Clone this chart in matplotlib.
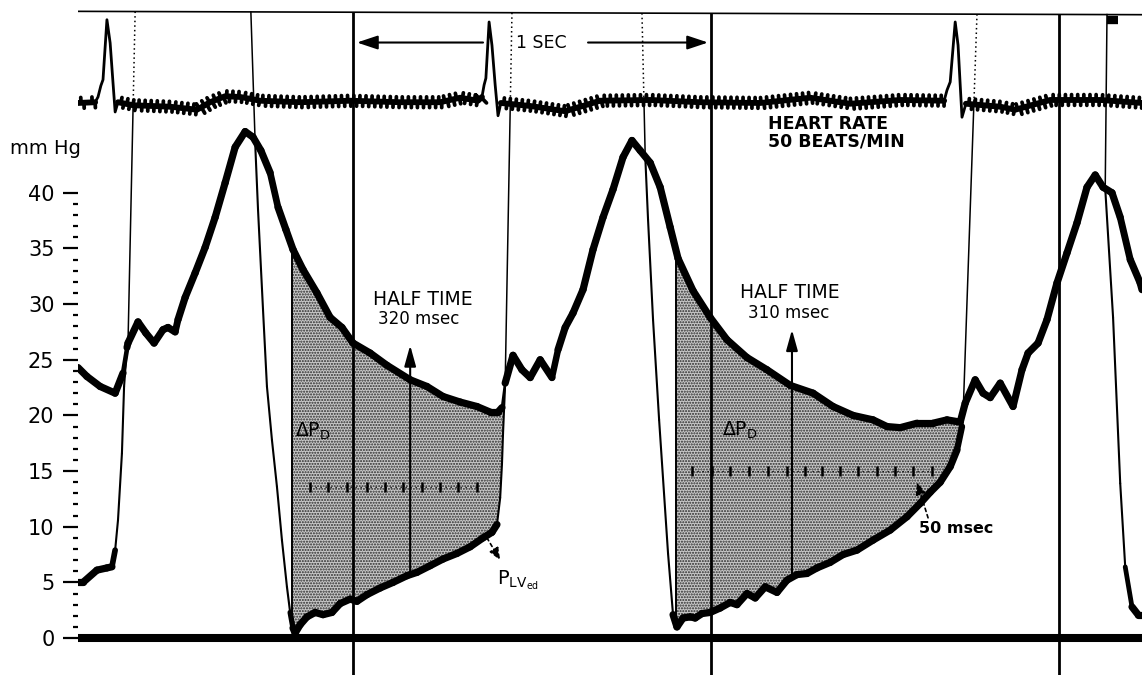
import numpy as np
import matplotlib
matplotlib.use("Agg")
import matplotlib.pyplot as plt
import matplotlib.patheffects as pe
from matplotlib.collections import LineCollection

plt.rcParams["font.family"] = ["DejaVu Sans"]
plt.rcParams["mathtext.fontset"] = "dejavusans"
plt.rcParams["hatch.linewidth"] = 1.0

# time in msec from the start of the strip, pressure in mm Hg
art_t = [0, 25, 62, 104, 126, 140, 168, 190, 213, 238, 252, 272, 280, 300, 328, 356, 384, 412,
         440, 468, 490, 512, 538, 560, 582, 602, 630, 669, 706, 739, 770, 818, 865, 930, 977,
         1022, 1070, 1117, 1154, 1176, 1187, 1196, 1218, 1243, 1266, 1294, 1327, 1344, 1364,
         1386, 1414, 1442, 1470, 1498, 1526, 1551, 1574, 1602, 1630, 1658, 1680, 1722, 1770,
         1817, 1873, 1929, 1994, 2058, 2114, 2170, 2226, 2265, 2302, 2349, 2394, 2433, 2470,
         2484, 2512, 2534, 2554, 2582, 2618, 2643, 2660, 2688, 2713, 2741, 2769, 2797, 2825,
         2848, 2870, 2895, 2918, 2946, 2974, 2979]
art_p = [24.3, 23.5, 22.6, 22.0, 23.8, 26.5, 28.4, 27.4, 26.5, 27.7, 27.9, 27.5, 28.6, 30.6,
         32.8, 35.1, 37.8, 40.9, 44.1, 45.5, 45.0, 43.8, 41.8, 38.7, 36.7, 34.9, 33.1, 31.0,
         28.8, 27.9, 26.5, 25.6, 24.5, 23.2, 22.6, 21.7, 21.2, 20.8, 20.3, 20.3, 20.7, 22.9,
         25.4, 24.1, 23.4, 25.0, 23.4, 25.9, 27.9, 29.2, 31.3, 34.9, 37.8, 40.3, 43.2, 44.7,
         43.8, 42.7, 40.5, 36.9, 34.1, 31.2, 28.8, 26.8, 25.2, 24.1, 22.7, 22.0, 20.8, 20.0,
         19.6, 19.0, 18.9, 19.3, 19.3, 19.6, 19.4, 21.1, 23.2, 22.0, 21.6, 22.9, 20.8, 24.1,
         25.6, 26.5, 28.6, 31.9, 34.6, 37.3, 40.5, 41.6, 40.5, 40.0, 37.8, 34.0, 31.9, 31.3]

# left ventricular pressure, only where it leaves the arterial trace
lv_a_t = [0, 14, 53, 81, 95, 104, 112, 123, 129, 137, 140]
lv_a_p = [5.0, 5.0, 6.1, 6.3, 6.4, 7.9, 10.6, 16.6, 22.6, 26.1, 26.5]
lv_b_t = [496, 504, 518, 529, 543, 557, 571, 585, 594, 602, 608, 622, 641, 664, 686, 711, 734,
          762, 781, 809, 846, 882, 921, 949, 986, 1022, 1061, 1098, 1134, 1159, 1173, 1182,
          1187, 1190, 1196]
lv_b_p = [44.5, 38.5, 29.5, 22.6, 17.8, 13.6, 8.8, 4.6, 2.3, 0.9, 0.45, 1.2, 1.9, 2.3, 2.1,
          2.3, 3.1, 3.5, 3.3, 3.9, 4.5, 5.0, 5.6, 5.9, 6.5, 7.1, 7.6, 8.2, 9.0, 9.5, 10.2,
          12.6, 15.6, 18.4, 22.9]
lv_c_t = [1588, 1596, 1610, 1627, 1652, 1666, 1677, 1694, 1714, 1728, 1747, 1770, 1798, 1826,
          1845, 1873, 1896, 1924, 1957, 1985, 2013, 2041, 2069, 2106, 2142, 2181, 2226, 2274,
          2321, 2358, 2386, 2414, 2442, 2461, 2475, 2478]
lv_c_p = [43.4, 37.6, 28.6, 19.6, 7.6, 2.1, 1.0, 1.8, 1.9, 1.8, 2.2, 2.3, 2.7, 3.2, 3.0, 4.0,
          3.6, 4.6, 4.1, 5.2, 5.7, 5.8, 6.3, 6.8, 7.5, 7.9, 8.8, 9.7, 10.9, 12.1, 13.1, 14.0,
          15.4, 16.9, 19.0, 20.0]
lv_d_t = [2876, 2898, 2918, 2932, 2951, 2968, 2979]
lv_d_p = [40.4, 28.8, 13.9, 6.4, 2.8, 2.1, 2.1]

# ECG (mV)
ecg_t = [0, 48, 56, 64, 70, 81, 90, 98, 104, 112, 154, 258, 333, 370, 412, 454, 510, 622, 762,
         902, 1014, 1070, 1120, 1131, 1137, 1142, 1151, 1159, 1168, 1176, 1184, 1266, 1364,
         1462, 1602, 1742, 1910, 2050, 2162, 2302, 2425, 2433, 2442, 2456, 2464, 2470, 2475,
         2486, 2582, 2624, 2722, 2862, 2979]
ecg_mv = [-0.04, -0.03, 0.04, 0.19, 0.27, 1.07, 0.76, 0.23, -0.16, -0.03, -0.07, -0.09, -0.13,
          -0.03, 0.05, 0.04, -0.01, -0.03, -0.01, -0.03, -0.03, 0.03, -0.01, 0.04, 0.2, 0.29,
          1.04, 0.73, 0.2, -0.21, -0.04, -0.08, -0.15, -0.01, 0.0, -0.03, -0.04, 0.03, -0.05,
          0.0, -0.01, 0.13, 0.24, 1.04, 0.73, 0.2, -0.23, -0.05, -0.09, -0.13, 0.0, 0.0, -0.04]

# timing lines
sec_marks = [770, 1772, 2747]
top_line_t = [0, 2979]
top_line_p = [56.3, 56.0]
ecg_level_p = 48.3
guide_top_t = [160, 484, 1215, 1579, 2517, 2881]
guide_bot_t = [140, 496, 1196, 1588, 2478, 2876]
guide_bot_p = [26.5, 44.5, 22.9, 43.4, 20.0, 40.4]
guide_dotted = [True, False, True, True, True, False]
flag_t = [2881, 2912]
flag_p = [55.5, 55.5]

# shaded diastolic areas and half-time arrows
shade_start = [599, 1674]
shade_end = [1196, 2478]
half_t = [930, 1999]
half_tip = [26.3, 27.7]
tick_rows_t = [[650, 700, 753, 809, 860, 910, 963, 1014, 1064, 1117],
               [1719, 1775, 1826, 1879, 1932, 1985, 2036, 2083, 2134, 2184, 2237, 2288, 2338, 2391]]
tick_rows_p = [13.6, 15.0]

fig = plt.figure(figsize=(11.42, 6.75), dpi=100)
fig.patch.set_facecolor("white")
ax = fig.add_axes([78 / 1142, 0, 1 - 78 / 1142, 1])
ax.set_xlim(0, 2979)
ax.set_ylim(-3.32, 57.32)
for s in ax.spines.values():
    s.set_visible(False)
ax.set_xticks([])
ax.set_yticks(np.arange(0, 41, 5))
ax.set_yticks(np.arange(0, 41, 1), minor=True)
ax.tick_params(axis="y", which="major", length=11, width=1.6, pad=6, labelsize=15)
ax.tick_params(axis="y", which="minor", length=3.5, width=1.6)
fig.text(10 / 1142, 1 - 148 / 675, "mm Hg", fontsize=14, ha="left", va="center")

lv_all_t = lv_b_t + lv_c_t
lv_all_p = lv_b_p + lv_c_p


def pen_trace(axis, t, p, thick=5.2, thin=1.5, z=4):
    # fast pen strokes come out thin, slow ones thick
    t = np.asarray(t, float)
    p = np.asarray(p, float)
    pts = axis.transData.transform(np.column_stack([t, p]))
    d = np.diff(pts, axis=0)
    slope = np.abs(d[:, 1]) / np.maximum(np.abs(d[:, 0]), 1e-6)
    frac = np.clip((8.0 - slope) / 4.0, 0, 1)
    widths = thin + (thick - thin) * frac
    segs = np.stack([pts[:-1], pts[1:]], axis=1)
    segs = axis.transData.inverted().transform(segs.reshape(-1, 2)).reshape(-1, 2, 2)
    lc = LineCollection(segs, linewidths=widths, colors="black", capstyle="round",
                        joinstyle="round", zorder=z)
    axis.add_collection(lc)
    return slope


# shading between arterial and ventricular pressure
for t0, t1 in zip(shade_start, shade_end):
    grid = np.union1d([t0, t1], [v for v in art_t + lv_all_t if t0 <= v <= t1])
    upper = np.interp(grid, art_t, art_p)
    lower = np.interp(grid, lv_all_t, lv_all_p)
    ax.fill_between(grid, lower, upper, facecolor="#c8c8c8", edgecolor="#2a2a2a",
                    hatch="......", linewidth=0, zorder=1)
    ax.vlines(t0, lower[0], upper[0], color="black", lw=1.4, zorder=3)

# zero line, top line, one-second marks
ax.axhline(0, color="black", lw=5.8, zorder=4)
ax.plot(top_line_t, top_line_p, color="black", lw=1.2, zorder=4)
top_p = np.interp(sec_marks, top_line_t, top_line_p)
ax.vlines(sec_marks, -3.32, top_p, color="black", lw=2.0, zorder=5)
ax.plot(flag_t, flag_p, color="black", lw=6, solid_capstyle="butt", zorder=5)

# guide lines down to the pressure upstrokes and downstrokes
for tt, tb, pb, dotted in zip(guide_top_t, guide_bot_t, guide_bot_p, guide_dotted):
    pt = np.interp(tt, top_line_t, top_line_p)
    if dotted:
        tm = tt + (tb - tt) * (pt - ecg_level_p) / (pt - pb)
        ax.plot([tt, tm], [pt, ecg_level_p], color="black", lw=1.1, ls=(0, (1, 2)), zorder=3)
        ax.plot([tm, tb], [ecg_level_p, pb], color="black", lw=1.1, zorder=3)
    else:
        ax.plot([tt, tb], [pt, pb], color="black", lw=1.1, zorder=3)

# pressure traces
pen_trace(ax, art_t, art_p)
for lt, lp in [(lv_a_t, lv_a_p), (lv_b_t, lv_b_p), (lv_c_t, lv_c_p), (lv_d_t, lv_d_p)]:
    pen_trace(ax, lt, lp)

# 50 msec time ticks
for row_t, row_p in zip(tick_rows_t, tick_rows_p):
    ax.plot([row_t[0], row_t[-1]], [row_p, row_p], color="black", lw=0.9, ls=(0, (1, 3)), zorder=3)
    ax.plot(row_t, [row_p] * len(row_t), ls="none", marker="|", ms=7, mew=1.8,
            color="black", zorder=3)

# half-time arrows
for t, tip in zip(half_t, half_tip):
    base = np.interp(t, lv_all_t, lv_all_p)
    ax.annotate("", xy=(t, tip), xytext=(t, base),
                arrowprops=dict(arrowstyle="-|>,head_length=0.9,head_width=0.25", color="black",
                                lw=1.5, shrinkA=0, shrinkB=0, mutation_scale=14), zorder=6)

# one-second span arrows
for x0, x1 in [(1134, 781), (1428, 1764)]:
    ax.annotate("", xy=(x1, 53.5), xytext=(x0, 53.5),
                arrowprops=dict(arrowstyle="-|>,head_length=0.9,head_width=0.3", color="black",
                                lw=1.5, shrinkA=0, shrinkB=0, mutation_scale=14), zorder=6)
ax.text(1296, 53.5, "1 SEC", fontsize=12.5, ha="center", va="center")

ax.text(1932, 47.0, "HEART RATE\n50 BEATS/MIN", fontsize=12.5, fontweight="bold",
        ha="left", va="top", linespacing=0.95)
ax.text(966, 30.4, "HALF TIME", fontsize=13.5, ha="center", va="center", zorder=7)
ax.text(955, 28.7, "320 msec", fontsize=12, ha="center", va="center", zorder=7)
ax.text(1994, 31.0, "HALF TIME", fontsize=13.5, ha="center", va="center", zorder=7)
ax.text(1991, 29.2, "310 msec", fontsize=12, ha="center", va="center", zorder=7)
ax.text(608, 18.1, r"$\Delta\mathrm{P}_{\mathrm{D}}$", fontsize=13.5, ha="left", va="baseline", zorder=7)
ax.text(1803, 18.2, r"$\Delta\mathrm{P}_{\mathrm{D}}$", fontsize=13.5, ha="left", va="baseline", zorder=7)
ax.text(1173, 4.85, r"$\mathrm{P}_{\mathrm{LV}_{\mathrm{ed}}}$", fontsize=14, ha="left",
        va="baseline", zorder=7)
ax.text(2458, 9.8, "50 msec", fontsize=11.5, fontweight="bold", ha="center", va="center", zorder=7)

ax.annotate("", xy=(1182, 7.0), xytext=(1145, 9.0),
            arrowprops=dict(arrowstyle="-|>,head_length=0.6,head_width=0.25", color="black",
                            lw=1.2, ls=(0, (2, 2)), shrinkA=0, shrinkB=0, mutation_scale=12), zorder=6)
ax.annotate("", xy=(2349, 14.0), xytext=(2380, 10.8),
            arrowprops=dict(arrowstyle="-|>,head_length=0.6,head_width=0.25", color="black",
                            lw=1.2, ls=(0, (2, 2)), shrinkA=0, shrinkB=0, mutation_scale=12), zorder=6)

# ECG strip on its own scale
ax_ecg = fig.add_axes([78 / 1142, 0, 1 - 78 / 1142, 1], sharex=ax)
ax_ecg.set_ylim(-7.667, 1.333)
ax_ecg.axis("off")
ax_ecg.patch.set_visible(False)
ax_ecg.plot(ecg_t, ecg_mv, color="black", lw=2.0, zorder=3)
et = np.asarray(ecg_t, float)
ev = np.asarray(ecg_mv, float)
pts = ax_ecg.transData.transform(np.column_stack([et, ev]))
seg_slope = np.abs(np.diff(pts[:, 1])) / np.diff(pts[:, 0])
slow = seg_slope < 1.0
# 60 Hz hum on the slow parts of the ECG trace
ripple = [pe.Stroke(linewidth=4.2, foreground="black"),
          pe.TickedStroke(spacing=4.3, angle=90, length=0.9, linewidth=2.7, capstyle="round"),
          pe.TickedStroke(offset=(2.15, 0), spacing=4.3, angle=-90, length=0.9, linewidth=2.7,
                          capstyle="round")]
i = 0
while i < len(slow):
    if slow[i]:
        j = i
        while j < len(slow) and slow[j]:
            j += 1
        ax_ecg.plot(et[i:j + 1], ev[i:j + 1], color="black", lw=4.2, zorder=4,
                    solid_capstyle="round", path_effects=ripple)
        i = j
    else:
        i += 1

fig.savefig("out.png", dpi=100, facecolor="white")
